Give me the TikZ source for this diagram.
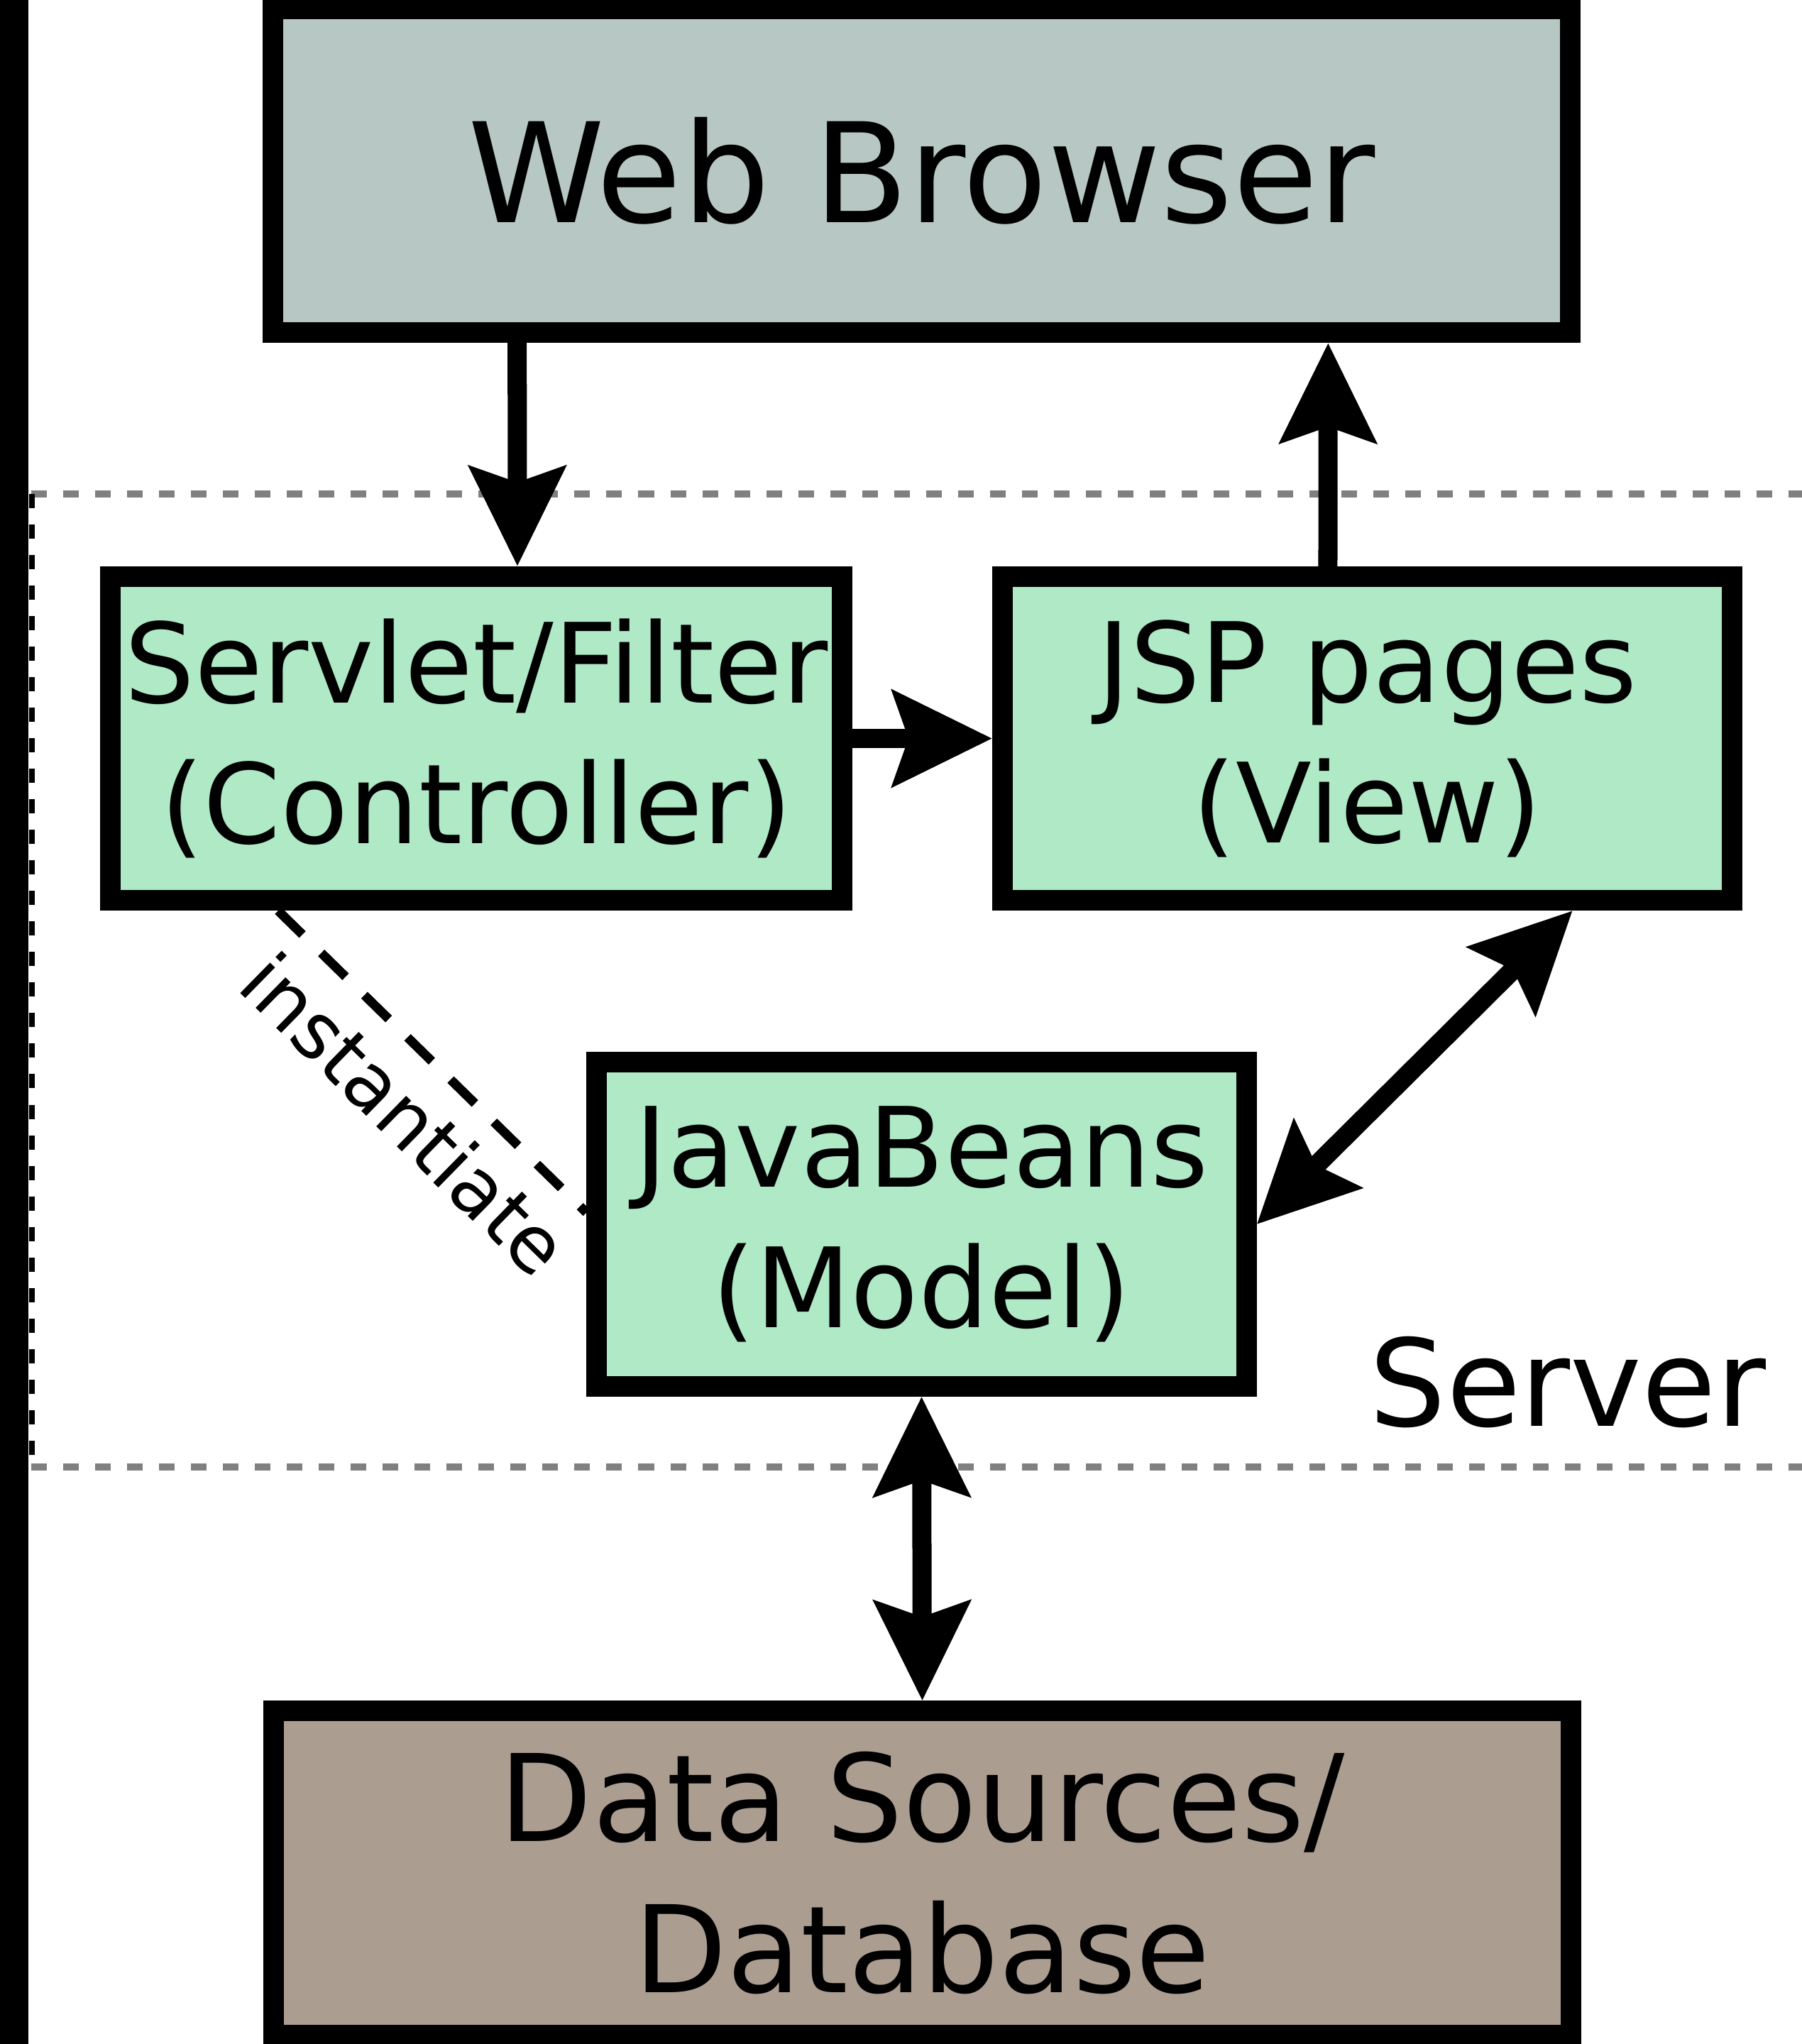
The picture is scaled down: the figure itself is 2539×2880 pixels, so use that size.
\documentclass[tikz,border=0pt]{standalone}
\usepackage{fontspec}
\setmainfont{DejaVu Sans}
\usetikzlibrary{arrows.meta}
\definecolor{browsergray}{HTML}{B7C8C4}
\definecolor{mvcgreen}{HTML}{AFE9C6}
\definecolor{dbbrown}{HTML}{AC9D91}

\begin{document}
\begin{tikzpicture}[x=0.01cm, y=-0.01cm,
    box/.style={draw, line width=0.29cm, inner sep=0pt, minimum height=4.56cm, align=center,
        font=\fontsize{44.4}{56.3}\selectfont},
    tip/.style={Stealth[length=1.4cm, width=1.34cm, inset=0.22cm]},
    arr/.style={line width=0.27cm, -{Stealth[length=1.4cm, width=1.34cm, inset=0.22cm]}},
    dblarr/.style={line width=0.27cm, {Stealth[length=1.4cm, width=1.34cm, inset=0.22cm]}-{Stealth[length=1.4cm, width=1.34cm, inset=0.22cm]}},
    zone/.style={draw=gray, line width=0.1cm, dash pattern=on 0.22cm off 0.23cm}]
    \useasboundingbox (0,0) rectangle (2539,2880);
    % server area
    \fill (0,0) rectangle (40,2880);
    \draw[zone] (44,696) -- (2539,696);
    \draw[zone] (44,2067) -- (2539,2067);
    \draw[line width=0.07cm, dash pattern=on 0.2cm off 0.23cm] (45,696) -- (45,2067);
    \node[font=\fontsize{48.4}{58}\selectfont, anchor=base] (server) at (2209,2009) {Server};
    % boxes
    \node[box, fill=browsergray, minimum width=18.27cm, font=\fontsize{55.5}{66}\selectfont] (browser) at (1298.5,240.5) {Web Browser};
    \node[box, fill=mvcgreen, minimum width=10.3cm] (servlet) at (671,1040.5) {Servlet/Filter\\(Controller)};
    \node[box, fill=mvcgreen, minimum width=10.27cm] (jsp) at (1926.5,1040.5) {JSP pages\\(View)};
    \node[box, fill=mvcgreen, minimum width=9.15cm] (beans) at (1298.5,1725) {JavaBeans\\(Model)};
    \node[box, fill=dbbrown, minimum width=18.27cm, font=\fontsize{48.4}{60.6}\selectfont] (data) at (1299.5,2639) {Data Sources/\\Database};
    % connectors
    \draw[arr] ([xshift=-5.695cm]browser.south) -- ([xshift=0.58cm]servlet.north);
    \draw[arr] ([xshift=-0.555cm]jsp.north) -- ([xshift=5.725cm]browser.south);
    \draw[arr] (servlet.east) -- (jsp.west);
    \draw[dblarr] (jsp.320) -- (beans.east);
    \draw[dblarr] (beans.south) -- (data.north);
    \draw[line width=0.13cm, dash pattern=on 0.48cm off 0.37cm] (servlet.221) -- (beans.178)
        node[pos=0.54, sloped, below, inner sep=0.3cm, font=\fontsize{31.3}{38}\selectfont] (inst) {instantiate};
\end{tikzpicture}
\end{document}
